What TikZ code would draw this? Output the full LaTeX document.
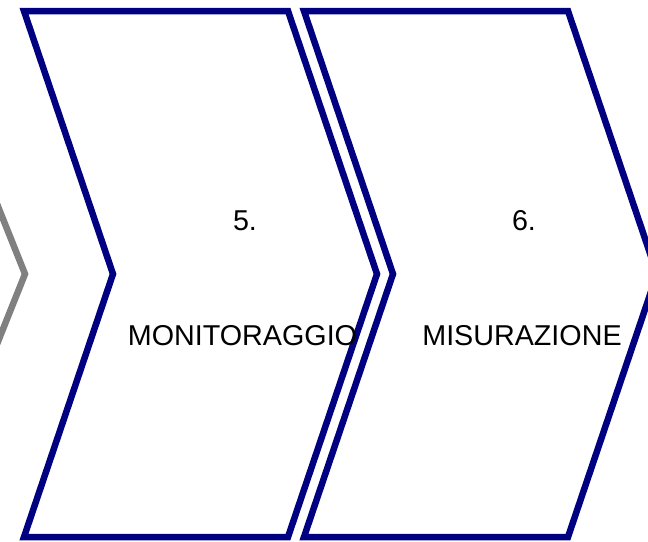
\documentclass[tikz,border=0pt]{standalone}
\usepackage{fontspec}
\setmainfont{Liberation Sans}
\usepackage{tikz}

\definecolor{stepblue}{RGB}{0,0,128}
\definecolor{stepgray}{RGB}{128,128,128}

\begin{document}
\begin{tikzpicture}[x=1pt, y=-1pt,
    chevron/.style={draw=stepblue, line width=6.5pt, line join=miter},
    oldchevron/.style={chevron, draw=stepgray},
    steptext/.style={anchor=base, inner sep=0pt, font=\fontsize{28.7}{34}\selectfont}]
        \useasboundingbox (0,0) rectangle (648,541);
        \clip (0,0) rectangle (648,541);
        % previous step, only its point shows
        \draw[oldchevron] (-344,11) -- (-80,11) -- (25,274) -- (-80,537) -- (-344,537) -- (-255,274) -- cycle;
        % step 5
        \draw[chevron] (24,11) -- (288,11) -- (377,274) -- (288,537) -- (24,537) -- (113,274) -- cycle;
        \node[steptext] (num5) at (245,230) {5.};
        \node[steptext] (lab5) at (242.5,345) {MONITORAGGIO};
        % step 6
        \draw[chevron] (304,11) -- (568,11) -- (657,274) -- (568,537) -- (304,537) -- (393,274) -- cycle;
        \node[steptext] (num6) at (524,230) {6.};
        \node[steptext] (lab6) at (522,345) {MISURAZIONE};
    \end{tikzpicture}
\end{document}
